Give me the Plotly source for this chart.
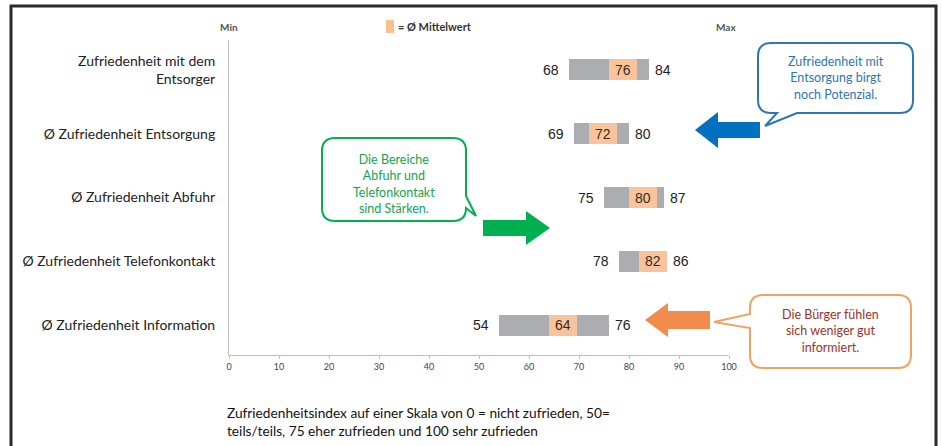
import plotly.graph_objects as go

# ---- data ----
categories = [
    "Zufriedenheit mit dem<br>Entsorger",
    "Ø Zufriedenheit Entsorgung",
    "Ø Zufriedenheit Abfuhr",
    "Ø Zufriedenheit Telefonkontakt",
    "Ø Zufriedenheit Information",
]
min_vals = [68, 69, 75, 78, 54]
mean_vals = [76, 72, 80, 82, 64]
max_vals = [84, 80, 87, 86, 76]
tick_vals = [0, 10, 20, 30, 40, 50, 60, 70, 80, 90, 100]

MEAN_W = 5.6  # visual width of the mean marker segment

# ---- layout geometry (pixels) ----
W, H = 942, 446
L_, R_ = 229, 729
T_, B_ = 40, 355


def px(x):
    return (x - L_) / (R_ - L_)


def py(y):
    return (B_ - y) / (B_ - T_)


def P(x, y):
    return f"{px(x):.5f},{py(y):.5f}"


def callout(x0, y0, x1, y1, r, edge, a, b, tip):
    s = f"M {P(x0 + r, y0)}"
    if edge == "top":
        s += f" L {P(a, y0)} L {P(*tip)} L {P(b, y0)}"
    s += f" L {P(x1 - r, y0)} Q {P(x1, y0)} {P(x1, y0 + r)}"
    if edge == "right":
        s += f" L {P(x1, a)} L {P(*tip)} L {P(x1, b)}"
    s += f" L {P(x1, y1 - r)} Q {P(x1, y1)} {P(x1 - r, y1)}"
    if edge == "bottom":
        s += f" L {P(a, y1)} L {P(*tip)} L {P(b, y1)}"
    s += f" L {P(x0 + r, y1)} Q {P(x0, y1)} {P(x0, y1 - r)}"
    if edge == "left":
        s += f" L {P(x0, a)} L {P(*tip)} L {P(x0, b)}"
    s += f" L {P(x0, y0 + r)} Q {P(x0, y0)} {P(x0 + r, y0)} Z"
    return s


def block_arrow(tip_x, yc, head_x, hh, sh, tail_x):
    return (f"M {P(tip_x, yc)} L {P(head_x, yc - hh)} L {P(head_x, yc - sh)} "
            f"L {P(tail_x, yc - sh)} L {P(tail_x, yc + sh)} L {P(head_x, yc + sh)} "
            f"L {P(head_x, yc + hh)} Z")


fig = go.Figure()

fig.add_trace(go.Bar(
    y=categories, x=[mx - mn for mn, mx in zip(min_vals, max_vals)], base=min_vals,
    orientation="h", marker=dict(color="#abadb0", line=dict(width=0)),
    width=0.33, hoverinfo="skip", showlegend=False,
))
fig.add_trace(go.Bar(
    y=categories, x=[MEAN_W] * len(mean_vals), base=mean_vals,
    orientation="h", marker=dict(color="#f9c49c", line=dict(width=0)),
    width=0.33, hoverinfo="skip", showlegend=False,
))

annotations = []
val_font = dict(family="Liberation Sans, Arial", size=14, color="#222222")
for cat, mn, mu, mx in zip(categories, min_vals, mean_vals, max_vals):
    annotations.append(dict(x=mn, y=cat, xref="x", yref="y", text=str(mn), showarrow=False,
                            xanchor="right", xshift=-8, font=val_font))
    annotations.append(dict(x=mu + MEAN_W / 2, y=cat, xref="x", yref="y", text=str(mu),
                            showarrow=False, xanchor="center",
                            font=dict(family="Liberation Sans, Arial", size=14, color="#3a2a1c")))
    annotations.append(dict(x=max(mx, mu + MEAN_W), y=cat, xref="x", yref="y", text=str(mx),
                            showarrow=False, xanchor="left", xshift=4, font=val_font))

hdr_font = dict(family="Lato", size=10, color="#555555")
annotations += [
    dict(x=px(229), y=py(27), xref="paper", yref="paper", text="<b>Min</b>", showarrow=False,
         xanchor="center", yanchor="middle", font=hdr_font),
    dict(x=px(726), y=py(27), xref="paper", yref="paper", text="<b>Max</b>", showarrow=False,
         xanchor="center", yanchor="middle", font=hdr_font),
    dict(x=px(396), y=py(27), xref="paper", yref="paper", text="<b>= Ø Mittelwert</b>",
         showarrow=False, xanchor="left", yanchor="middle",
         font=dict(family="Lato", size=11, color="#333333")),
    dict(x=px(225), y=py(402), xref="paper", yref="paper",
         text="Zufriedenheitsindex auf einer Skala von 0 = nicht zufrieden, 50=<br>"
              "teils/teils, 75 eher zufrieden und 100 sehr zufrieden",
         showarrow=False, xanchor="left", yanchor="top", align="left",
         font=dict(family="Lato", size=13.7, color="#111111")),
    dict(x=px(835.5), y=py(78), xref="paper", yref="paper",
         text="Zufriedenheit mit<br>Entsorgung birgt<br>noch Potenzial.",
         showarrow=False, xanchor="center", yanchor="middle", align="center",
         font=dict(family="Lato", size=12.5, color="#2e75b6")),
    dict(x=px(394), y=py(184), xref="paper", yref="paper",
         text="Die Bereiche<br>Abfuhr und<br>Telefonkontakt<br>sind Stärken.",
         showarrow=False, xanchor="center", yanchor="middle", align="center",
         font=dict(family="Lato", size=12.5, color="#12a552")),
    dict(x=px(830.5), y=py(331), xref="paper", yref="paper",
         text="Die Bürger fühlen<br>sich weniger gut<br>informiert.",
         showarrow=False, xanchor="center", yanchor="middle", align="center",
         font=dict(family="Lato", size=12.5, color="#a0302a")),
]

shapes = [
    # outer frame
    dict(type="rect", xref="paper", yref="paper", x0=px(11), x1=px(936), y0=py(6), y1=py(470),
         line=dict(color="#2a2a2a", width=3), fillcolor="rgba(0,0,0,0)", layer="below"),
    # legend swatch
    dict(type="rect", xref="paper", yref="paper", x0=px(386), x1=px(394), y0=py(20), y1=py(33),
         line=dict(width=0), fillcolor="#f9c08f"),
    # callouts
    dict(type="path", xref="paper", yref="paper",
         path=callout(758, 43, 913, 113, 13, "bottom", 797, 777, (765, 126)),
         line=dict(color="#2e75b6", width=2), fillcolor="white"),
    dict(type="path", xref="paper", yref="paper",
         path=callout(322, 138, 466, 221, 13, "right", 196, 208, (476, 216)),
         line=dict(color="#00b050", width=2), fillcolor="white"),
    dict(type="path", xref="paper", yref="paper",
         path=callout(750, 295, 911, 368, 13, "left", 328, 314, (714, 322)),
         line=dict(color="#f0a262", width=2), fillcolor="white"),
    # block arrows
    dict(type="path", xref="paper", yref="paper",
         path=block_arrow(695, 130, 718, 18, 8, 760),
         line=dict(width=0), fillcolor="#0070c0"),
    dict(type="path", xref="paper", yref="paper",
         path=block_arrow(550, 228, 526, 17, 8, 483),
         line=dict(width=0), fillcolor="#00b050"),
    dict(type="path", xref="paper", yref="paper",
         path=block_arrow(645, 320, 668, 17, 9, 710),
         line=dict(width=0), fillcolor="#f28c4c"),
]

fig.update_layout(
    width=W, height=H,
    margin=dict(l=L_, r=W - R_, t=T_, b=H - B_),
    paper_bgcolor="white", plot_bgcolor="white",
    barmode="overlay", bargap=0,
    showlegend=False,
    annotations=annotations, shapes=shapes,
    xaxis=dict(range=[0, 100], tickvals=tick_vals, showgrid=False, zeroline=False,
               showline=True, linecolor="#bfbfbf", linewidth=1,
               ticks="outside", ticklen=3, tickcolor="#bfbfbf",
               tickfont=dict(family="Lato", size=9, color="#444444"), fixedrange=True),
    yaxis=dict(categoryorder="array", categoryarray=categories, autorange=False,
               range=[4.47, -0.47], showgrid=False, zeroline=False,
               showline=True, linecolor="#bfbfbf", linewidth=1, ticks="",
               ticklabelstandoff=10,
               tickfont=dict(family="Lato", size=14, color="#222222"), fixedrange=True),
)

fig.write_html("out.html")
